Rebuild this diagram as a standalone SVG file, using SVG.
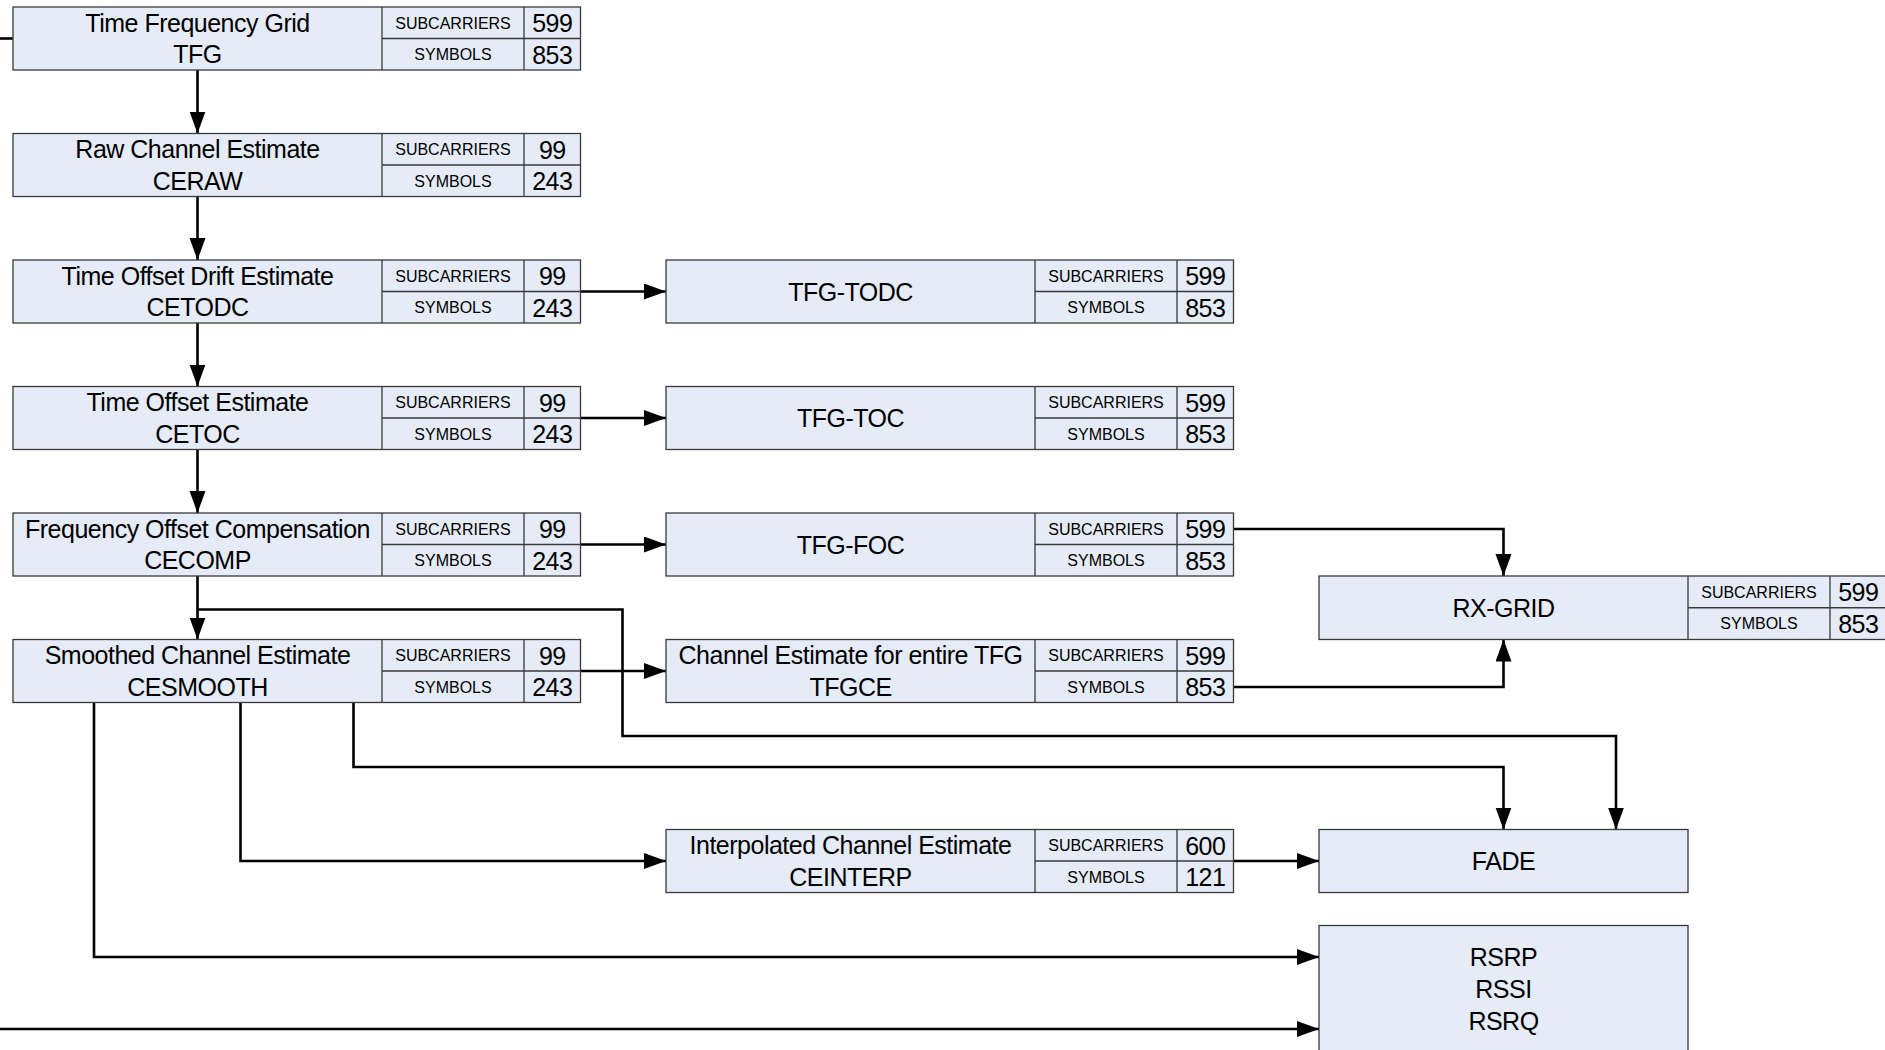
<svg xmlns="http://www.w3.org/2000/svg" width="1885" height="1050" viewBox="0 0 1885 1050">
<style>
.box{fill:#e6ecf7;stroke:#3a3a3a;stroke-width:1.3}
.div{stroke:#3a3a3a;stroke-width:1.3}
.nm{font-family:"Liberation Sans",Arial,sans-serif;font-size:25px;letter-spacing:-0.5px;fill:#000;text-anchor:middle}
.lb{font-family:"Liberation Sans",Arial,sans-serif;font-size:16px;fill:#000;text-anchor:middle}
.vl{font-family:"Liberation Sans",Arial,sans-serif;font-size:25px;letter-spacing:-0.5px;fill:#000;text-anchor:middle}
.cn{fill:none;stroke:#000;stroke-width:2.6}
.ar{marker-end:url(#arr)}
</style>
<defs>
<marker id="arr" markerUnits="userSpaceOnUse" markerWidth="23" markerHeight="17" refX="22" refY="8" orient="auto">
<path d="M0,0 L22,8 L0,16 z" fill="#000"/>
</marker>
</defs>
<rect width="1885" height="1050" fill="#fff"/>

<g id="connectors">
<path class="cn" d="M0,38.5 H13"/>
<path class="cn ar" d="M197.5,70 V133.5"/>
<path class="cn ar" d="M197.5,196.5 V260"/>
<path class="cn ar" d="M197.5,323 V386.5"/>
<path class="cn ar" d="M197.5,449.5 V513"/>
<path class="cn ar" d="M197.5,576 V639.5"/>
<path class="cn ar" d="M580.5,291.5 H666"/>
<path class="cn ar" d="M580.5,418 H666"/>
<path class="cn ar" d="M580.5,544.5 H666"/>
<path class="cn ar" d="M580.5,671 H666"/>
<path class="cn ar" d="M197.5,609.5 H622.5 V736 H1616 V829.5"/>
<path class="cn ar" d="M1233.5,529 H1503.5 V576"/>
<path class="cn ar" d="M1233.5,687 H1503.5 V639.5"/>
<path class="cn ar" d="M353.5,702.5 V767 H1503.5 V829.5"/>
<path class="cn ar" d="M240.5,702.5 V861 H666"/>
<path class="cn ar" d="M94,702.5 V957 H1319"/>
<path class="cn ar" d="M0,1029 H1319"/>
<path class="cn ar" d="M1233.5,861 H1319"/>
</g>

<g id="tfg">
<rect class="box" x="13" y="7" width="567.5" height="63"/>
<path class="div" d="M382,7 V70 M524,7 V70 M382,38.5 H580.5"/>
<text class="nm" x="197.5" y="31.5">Time Frequency Grid</text>
<text class="nm" x="197.5" y="63">TFG</text>
<text class="lb" x="453" y="28.5">SUBCARRIERS</text>
<text class="lb" x="453" y="60">SYMBOLS</text>
<text class="vl" x="552.3" y="32">599</text>
<text class="vl" x="552.3" y="63.5">853</text>
</g>

<g id="ceraw">
<rect class="box" x="13" y="133.5" width="567.5" height="63"/>
<path class="div" d="M382,133.5 V196.5 M524,133.5 V196.5 M382,165 H580.5"/>
<text class="nm" x="197.5" y="158">Raw Channel Estimate</text>
<text class="nm" x="197.5" y="189.5">CERAW</text>
<text class="lb" x="453" y="155">SUBCARRIERS</text>
<text class="lb" x="453" y="186.5">SYMBOLS</text>
<text class="vl" x="552.3" y="158.5">99</text>
<text class="vl" x="552.3" y="190">243</text>
</g>

<g id="cetodc">
<rect class="box" x="13" y="260" width="567.5" height="63"/>
<path class="div" d="M382,260 V323 M524,260 V323 M382,291.5 H580.5"/>
<text class="nm" x="197.5" y="284.5">Time Offset Drift Estimate</text>
<text class="nm" x="197.5" y="316">CETODC</text>
<text class="lb" x="453" y="281.5">SUBCARRIERS</text>
<text class="lb" x="453" y="313">SYMBOLS</text>
<text class="vl" x="552.3" y="285">99</text>
<text class="vl" x="552.3" y="316.5">243</text>
</g>

<g id="cetoc">
<rect class="box" x="13" y="386.5" width="567.5" height="63"/>
<path class="div" d="M382,386.5 V449.5 M524,386.5 V449.5 M382,418 H580.5"/>
<text class="nm" x="197.5" y="411">Time Offset Estimate</text>
<text class="nm" x="197.5" y="442.5">CETOC</text>
<text class="lb" x="453" y="408">SUBCARRIERS</text>
<text class="lb" x="453" y="439.5">SYMBOLS</text>
<text class="vl" x="552.3" y="411.5">99</text>
<text class="vl" x="552.3" y="443">243</text>
</g>

<g id="cecomp">
<rect class="box" x="13" y="513" width="567.5" height="63"/>
<path class="div" d="M382,513 V576 M524,513 V576 M382,544.5 H580.5"/>
<text class="nm" x="197.5" y="537.5">Frequency Offset Compensation</text>
<text class="nm" x="197.5" y="569">CECOMP</text>
<text class="lb" x="453" y="534.5">SUBCARRIERS</text>
<text class="lb" x="453" y="566">SYMBOLS</text>
<text class="vl" x="552.3" y="538">99</text>
<text class="vl" x="552.3" y="569.5">243</text>
</g>

<g id="cesmooth">
<rect class="box" x="13" y="639.5" width="567.5" height="63"/>
<path class="div" d="M382,639.5 V702.5 M524,639.5 V702.5 M382,671 H580.5"/>
<text class="nm" x="197.5" y="664">Smoothed Channel Estimate</text>
<text class="nm" x="197.5" y="695.5">CESMOOTH</text>
<text class="lb" x="453" y="661">SUBCARRIERS</text>
<text class="lb" x="453" y="692.5">SYMBOLS</text>
<text class="vl" x="552.3" y="664.5">99</text>
<text class="vl" x="552.3" y="696">243</text>
</g>

<g id="tfg-todc">
<rect class="box" x="666" y="260" width="567.5" height="63"/>
<path class="div" d="M1035,260 V323 M1177,260 V323 M1035,291.5 H1233.5"/>
<text class="nm" x="850.5" y="300.5">TFG-TODC</text>
<text class="lb" x="1106" y="281.5">SUBCARRIERS</text>
<text class="lb" x="1106" y="313">SYMBOLS</text>
<text class="vl" x="1205.3" y="285">599</text>
<text class="vl" x="1205.3" y="316.5">853</text>
</g>

<g id="tfg-toc">
<rect class="box" x="666" y="386.5" width="567.5" height="63"/>
<path class="div" d="M1035,386.5 V449.5 M1177,386.5 V449.5 M1035,418 H1233.5"/>
<text class="nm" x="850.5" y="427">TFG-TOC</text>
<text class="lb" x="1106" y="408">SUBCARRIERS</text>
<text class="lb" x="1106" y="439.5">SYMBOLS</text>
<text class="vl" x="1205.3" y="411.5">599</text>
<text class="vl" x="1205.3" y="443">853</text>
</g>

<g id="tfg-foc">
<rect class="box" x="666" y="513" width="567.5" height="63"/>
<path class="div" d="M1035,513 V576 M1177,513 V576 M1035,544.5 H1233.5"/>
<text class="nm" x="850.5" y="553.5">TFG-FOC</text>
<text class="lb" x="1106" y="534.5">SUBCARRIERS</text>
<text class="lb" x="1106" y="566">SYMBOLS</text>
<text class="vl" x="1205.3" y="538">599</text>
<text class="vl" x="1205.3" y="569.5">853</text>
</g>

<g id="tfgce">
<rect class="box" x="666" y="639.5" width="567.5" height="63"/>
<path class="div" d="M1035,639.5 V702.5 M1177,639.5 V702.5 M1035,671 H1233.5"/>
<text class="nm" x="850.5" y="664">Channel Estimate for entire TFG</text>
<text class="nm" x="850.5" y="695.5">TFGCE</text>
<text class="lb" x="1106" y="661">SUBCARRIERS</text>
<text class="lb" x="1106" y="692.5">SYMBOLS</text>
<text class="vl" x="1205.3" y="664.5">599</text>
<text class="vl" x="1205.3" y="696">853</text>
</g>

<g id="ceinterp">
<rect class="box" x="666" y="829.5" width="567.5" height="63"/>
<path class="div" d="M1035,829.5 V892.5 M1177,829.5 V892.5 M1035,861 H1233.5"/>
<text class="nm" x="850.5" y="854">Interpolated Channel Estimate</text>
<text class="nm" x="850.5" y="885.5">CEINTERP</text>
<text class="lb" x="1106" y="851">SUBCARRIERS</text>
<text class="lb" x="1106" y="882.5">SYMBOLS</text>
<text class="vl" x="1205.3" y="854.5">600</text>
<text class="vl" x="1205.3" y="886">121</text>
</g>

<g id="rx-grid">
<rect class="box" x="1319" y="576" width="567.5" height="63.5"/>
<path class="div" d="M1688,576 V639.5 M1830,576 V639.5 M1688,607.75 H1886.5"/>
<text class="nm" x="1503.5" y="617">RX-GRID</text>
<text class="lb" x="1759" y="597.5">SUBCARRIERS</text>
<text class="lb" x="1759" y="629">SYMBOLS</text>
<text class="vl" x="1858.3" y="601">599</text>
<text class="vl" x="1858.3" y="632.5">853</text>
</g>

<g id="fade">
<rect class="box" x="1319" y="829.5" width="369" height="63"/>
<text class="nm" x="1503.5" y="870">FADE</text>
</g>

<g id="rsrp">
<rect class="box" x="1319" y="925.5" width="369" height="140"/>
<text class="nm" x="1503.5" y="966">RSRP</text>
<text class="nm" x="1503.5" y="997.5">RSSI</text>
<text class="nm" x="1503.5" y="1029.5">RSRQ</text>
</g>
</svg>
